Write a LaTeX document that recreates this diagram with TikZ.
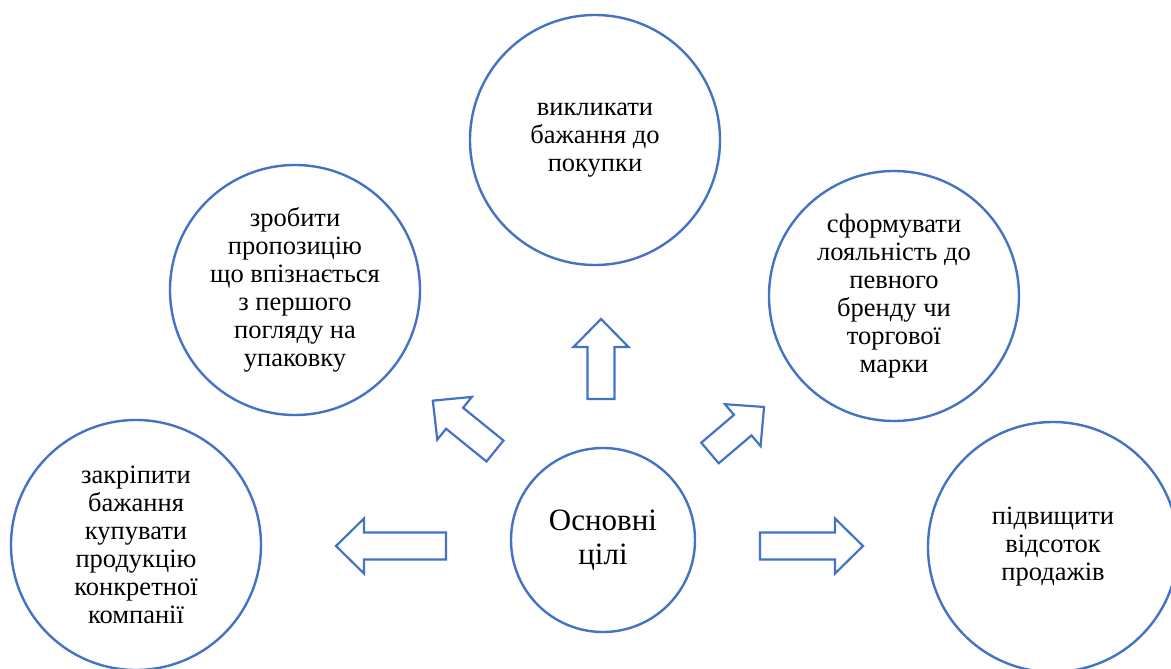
\documentclass[tikz,border=0pt]{standalone}
\usepackage{fontspec}
\setmainfont{Liberation Serif}
\definecolor{accblue}{HTML}{4472C4}
\tikzset{
  goal/.style={circle, draw=accblue, line width=2.4pt, minimum size=250pt, inner sep=0pt, align=center, font=\fontsize{26.5}{28}\selectfont},
  core/.style={circle, draw=accblue, line width=2.4pt, minimum size=184pt, inner sep=0pt, align=center, font=\fontsize{31}{34}\selectfont},
  blockarrow/.style={draw=accblue, line width=2.2pt, fill=white, line join=miter}
}
\newcommand{\blockarr}[4]{%
  \draw[blockarrow, shift={(#1,#2)}, rotate=#3] (0,-13.5) -- ({#4-28},-13.5) -- ({#4-28},-27.5) -- (#4,0) -- ({#4-28},27.5) -- ({#4-28},13.5) -- (0,13.5) -- cycle;}
\begin{document}
\begin{tikzpicture}[x=1pt,y=-1pt]
\useasboundingbox (0,0) rectangle (1171,669);
\fill[white] (0,0) rectangle (1171,669);
\begin{scope}
\clip (0,0) rectangle (1171,669);
\node[core] (c) at (603,540) {Основні\\цілі};
\node[goal] (top) at (595,140) {викликати\\бажання до\\покупки};
\node[goal] (ul) at (295,290) {зробити\\пропозицію\\що впізнається\\з першого\\погляду на\\упаковку};
\node[goal] (ur) at (894,296) {сформувати\\лояльність до\\певного\\бренду чи\\торгової\\марки};
\node[goal] (bl) at (136,545) {закріпити\\бажання\\купувати\\продукцію\\конкретної\\компанії};
\node[goal] (br) at (1053,547) {підвищити\\відсоток\\продажів};
\end{scope}
\blockarr{601}{399}{90}{80}
\blockarr{495}{451}{141}{80}
\blockarr{710}{453}{40.4}{71}
\blockarr{446}{546}{180}{110}
\blockarr{760}{546}{0}{103}
\end{tikzpicture}
\end{document}
